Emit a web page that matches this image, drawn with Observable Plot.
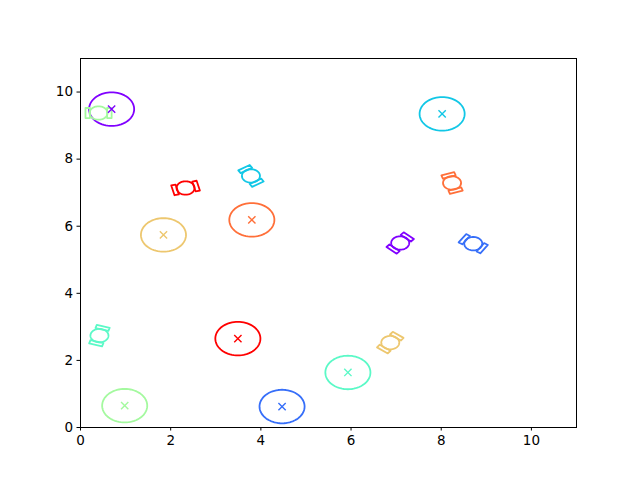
<!DOCTYPE html>
<html><head><meta charset="utf-8">
<script src="https://cdn.jsdelivr.net/npm/d3@7"></script>
<script src="https://cdn.jsdelivr.net/npm/@observablehq/plot@0.6"></script>
<style>body{margin:0;background:#fff}</style>
</head><body><div id="chart"></div>
<script>
// one colour per pair (rainbow colormap, 8 steps)
const colors = ["#8000ff", "#376ff9", "#12c7e6", "#5bf9c7", "#a4f99f", "#edc76f", "#ff6f39", "#ff0000"];
// big circles with an "x" at their centre
const circleX = [0.69, 4.47, 8.02, 5.93, 0.98, 1.84, 3.80, 3.49];
const circleY = [9.49, 0.625, 9.35, 1.64, 0.65, 5.74, 6.19, 2.65];
// small "watch" markers (circle with two straps), rotation in degrees
const watchX = [7.09, 8.71, 3.78, 0.42, 0.40, 6.87, 8.24, 2.33];
const watchY = [5.50, 5.48, 7.50, 2.74, 9.375, 2.53, 7.29, 7.14];
const watchAngle = [49, -34, -58, 73, 0, 53, -71, 14];
const xTicks = [0, 2, 4, 6, 8, 10];
const yTicks = [0, 2, 4, 6, 8, 10];

// shape geometry (in data units)
const bigR = 0.5, smallR = 0.2;
const strapIn = 0.19, strapOut = 0.29, strapHalf = 0.15;

const rows = [];
const N = 72;
colors.forEach((c, i) => {
  for (let k = 0; k < N; k++) {
    const t = 2 * Math.PI * k / N;
    rows.push({id: "big" + i, color: c, x: circleX[i] + bigR * Math.cos(t), y: circleY[i] + bigR * Math.sin(t)});
    rows.push({id: "wc" + i, color: c, x: watchX[i] + smallR * Math.cos(t), y: watchY[i] + smallR * Math.sin(t)});
  }
  const a = watchAngle[i] * Math.PI / 180, ca = Math.cos(a), sa = Math.sin(a);
  for (const s of [1, -1]) {
    const corners = [[strapIn, -strapHalf], [strapOut, -strapHalf], [strapOut, strapHalf], [strapIn, strapHalf]];
    for (const [u, v] of corners) {
      const uu = s * u, vv = s * v;
      rows.push({id: "ws" + i + s, color: c, x: watchX[i] + uu * ca - vv * sa, y: watchY[i] + uu * sa + vv * ca});
    }
  }
});
const centres = colors.map((c, i) => ({x: circleX[i], y: circleY[i], color: c}));

const chart = Plot.plot({
  width: 640, height: 480,
  marginLeft: 80, marginRight: 64, marginTop: 58, marginBottom: 53,
  style: {fontFamily: "DejaVu Sans", fontSize: "13.5px", color: "#000", background: "#fff"},
  x: {domain: [0, 11]},
  y: {domain: [0, 11]},
  marks: [
    Plot.line(rows, {x: "x", y: "y", z: "id", stroke: "color", strokeWidth: 1.8, curve: "linear-closed", clip: true}),
    Plot.dot(centres, {x: "x", y: "y", stroke: "color", symbol: "times", r: 3.4, strokeWidth: 1.4}),
    Plot.frame({stroke: "#000", strokeWidth: 1}),
    Plot.axisX({ticks: xTicks, tickSize: 3.5, tickPadding: 4, label: null, fontSize: 13.5, stroke: "#000"}),
    Plot.axisY({ticks: yTicks, tickSize: 3.5, tickPadding: 4, label: null, fontSize: 13.5, stroke: "#000"})
  ]
});
document.getElementById("chart").appendChild(chart);
</script>
</body></html>
